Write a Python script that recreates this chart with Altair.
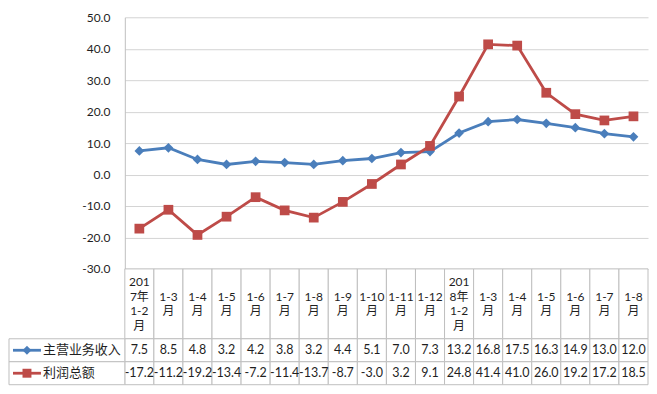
import altair as alt
import pandas as pd

# ---- data ----
periods = [
    "2017年1-2月", "2017年1-3月", "2017年1-4月", "2017年1-5月", "2017年1-6月",
    "2017年1-7月", "2017年1-8月", "2017年1-9月", "2017年1-10月", "2017年1-11月",
    "2017年1-12月", "2018年1-2月", "2018年1-3月", "2018年1-4月", "2018年1-5月",
    "2018年1-6月", "2018年1-7月", "2018年1-8月",
]
series_names = ["主营业务收入", "利润总额"]
revenue = [7.5, 8.5, 4.8, 3.2, 4.2, 3.8, 3.2, 4.4, 5.1, 7.0, 7.3,
           13.2, 16.8, 17.5, 16.3, 14.9, 13.0, 12.0]
profit = [-17.2, -11.2, -19.2, -13.4, -7.2, -11.4, -13.7, -8.7, -3.0, 3.2, 9.1,
          24.8, 41.4, 41.0, 26.0, 19.2, 17.2, 18.5]
y_ticks = [-30, -20, -10, 0, 10, 20, 30, 40, 50]

# ---- styles ----
FONT = "Lato, 'Noto Sans CJK SC', sans-serif"
TEXT = "#1f1f1f"
LINE_GRAY = "#BFBFBF"
GRID_GRAY = "#D4D4D4"
colors = ["#4A7EBB", "#BE4B48"]
shapes = ["diamond", "square"]

rows = []
for i, p in enumerate(periods):
    rows.append({"period": p, "series": series_names[0], "value": revenue[i]})
    rows.append({"period": p, "series": series_names[1], "value": profit[i]})
df = pd.DataFrame(rows)
period_df = pd.DataFrame({"period": periods})
legend_df = pd.DataFrame({"series": series_names})

x_scale = alt.Scale(type="band", paddingInner=0, paddingOuter=0, domain=periods)
color_scale = alt.Scale(domain=series_names, range=colors)
shape_scale = alt.Scale(domain=series_names, range=shapes)
row_scale = alt.Scale(domain=series_names, paddingInner=0, paddingOuter=0)

PLOT_W = 524
PLOT_H = 252
HEADER_H = 70
ROWS_H = 46
LINE_H = 14.5

HYPHEN = "replace(format(datum.value, '.1f'), '\u2212', '-')"

# ---- line chart ----
base = alt.Chart(df).encode(
    x=alt.X("period:N", scale=x_scale, sort=periods, axis=None, bandPosition=0.5),
    y=alt.Y(
        "value:Q",
        scale=alt.Scale(domain=[-30, 50], nice=False, zero=False),
        axis=alt.Axis(
            values=y_ticks, labelExpr=HYPHEN, title=None, grid=True,
            gridColor=GRID_GRAY, gridWidth=1, ticks=False, tickSize=0,
            labelPadding=15, domainColor=LINE_GRAY, labelFont=FONT,
            labelFontSize=12, labelColor=TEXT,
        ),
    ),
    color=alt.Color("series:N", scale=color_scale, legend=None),
)
lines = base.mark_line(strokeWidth=2.8)
points = base.mark_point(filled=True, opacity=1, size=95).encode(
    shape=alt.Shape("series:N", scale=shape_scale, legend=None)
)
top = alt.layer(lines, points).properties(width=PLOT_W, height=PLOT_H)

# ---- header row of the table ----
# "2017年1-2月" wraps to 4 lines; the others to "1-3 / 月", centred in the cell
header_expr = (
    "substring(datum.period, 5) == '1-2月' ? "
    "substring(datum.period, 0, 3) + '\\n' + substring(datum.period, 3, 5) + '\\n' + "
    "substring(datum.period, 5, 8) + '\\n' + substring(datum.period, 8) : "
    "'\\n' + substring(datum.period, 5, length(datum.period) - 1) + '\\n月\\n'"
)
hx = alt.X("period:N", scale=x_scale, sort=periods, axis=None)
hx_mid = alt.X("period:N", scale=x_scale, sort=periods, axis=None, bandPosition=0.5)

header_cells = alt.Chart(period_df).mark_rect(
    fill="white", stroke=LINE_GRAY, strokeWidth=1
).encode(x=hx)
header_text = alt.Chart(period_df).transform_calculate(
    head=header_expr
).mark_text(
    font=FONT, fontSize=12, color=TEXT, lineBreak="\n", lineHeight=LINE_H,
    baseline="middle", dy=-1.5 * LINE_H,
).encode(x=hx_mid, text="head:N")
header = alt.layer(header_cells, header_text).properties(width=PLOT_W, height=HEADER_H)

# ---- data rows of the table ----
tx = alt.X("period:N", scale=x_scale, sort=periods, axis=None)
tx_mid = alt.X("period:N", scale=x_scale, sort=periods, axis=None, bandPosition=0.5)
ty = alt.Y("series:N", scale=row_scale, sort=series_names, axis=None)
ty_mid = alt.Y("series:N", scale=row_scale, sort=series_names, axis=None, bandPosition=0.5)

cells = alt.Chart(df).mark_rect(fill="white", stroke=LINE_GRAY, strokeWidth=1).encode(
    x=tx, y=ty
)
values = alt.Chart(df).transform_calculate(
    label=HYPHEN
).mark_text(font=FONT, fontSize=12.5, color=TEXT).encode(
    x=tx_mid, y=ty_mid, text="label:N",
)

# legend column on the left of the table
leg_cells = alt.Chart(legend_df).mark_rect(fill="white", stroke=LINE_GRAY, strokeWidth=1).encode(
    x=alt.value(-116), x2=alt.value(0), y=ty
)
leg_lines = alt.Chart(legend_df).mark_rule(strokeWidth=2.8).encode(
    x=alt.value(-112), x2=alt.value(-84), y=ty_mid,
    color=alt.Color("series:N", scale=color_scale, legend=None),
)
leg_points = alt.Chart(legend_df).mark_point(filled=True, opacity=1, size=80).encode(
    x=alt.value(-98), y=ty_mid,
    color=alt.Color("series:N", scale=color_scale, legend=None),
    shape=alt.Shape("series:N", scale=shape_scale, legend=None),
)
leg_text = alt.Chart(legend_df).mark_text(
    font=FONT, fontSize=13, color=TEXT, align="left", baseline="middle"
).encode(
    x=alt.value(-82), y=ty_mid, text="series:N",
)

table = alt.layer(cells, values, leg_cells, leg_lines, leg_points, leg_text).properties(
    width=PLOT_W, height=ROWS_H
)

chart = alt.vconcat(top, header, table, spacing=0, bounds="flush").properties(
    padding={"left": 0, "top": 3, "right": 0, "bottom": 0}
).configure_view(stroke=None).configure_concat(spacing=0)

chart.save("out.html", embed_options={"renderer": "svg", "actions": False})
